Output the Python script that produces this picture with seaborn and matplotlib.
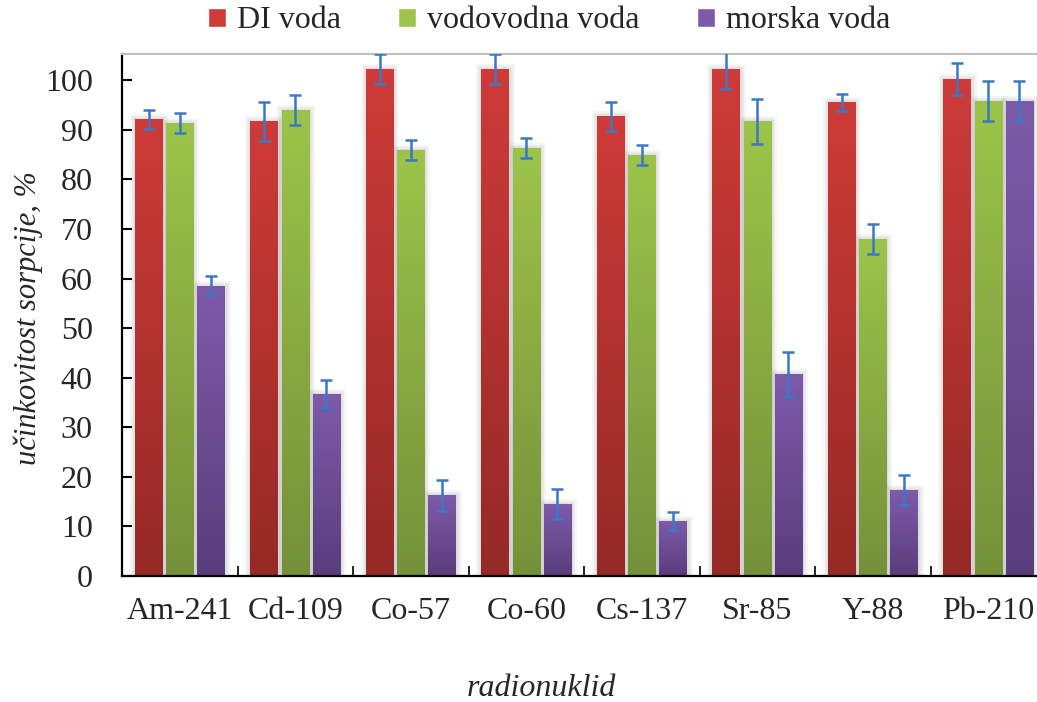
import numpy as np
import pandas as pd
import matplotlib
matplotlib.use("Agg")
import matplotlib.pyplot as plt
import matplotlib.patheffects as pe
from matplotlib.colors import LinearSegmentedColormap
import seaborn as sns

# ---- data ----
nuclides = ["Am-241", "Cd-109", "Co-57", "Co-60", "Cs-137", "Sr-85", "Y-88", "Pb-210"]
series = ["DI voda", "vodovodna voda", "morska voda"]
di_voda = [92.1, 91.7, 102.2, 102.2, 92.7, 102.2, 95.6, 100.2]
di_err = [2.0, 4.0, 3.0, 3.0, 3.0, 4.0, 1.7, 3.2]
vodovodna = [91.3, 94.0, 86.0, 86.4, 85.0, 91.7, 68.0, 95.8]
vodovodna_err = [2.0, 3.0, 2.0, 2.0, 2.0, 4.5, 3.1, 4.0]
morska = [58.6, 36.7, 16.3, 14.5, 11.1, 40.7, 17.3, 95.8]
morska_err = [2.0, 2.9, 3.1, 3.0, 1.9, 4.5, 3.0, 4.0]

values = [di_voda, vodovodna, morska]
errors = [di_err, vodovodna_err, morska_err]

df = pd.DataFrame({
    "radionuklid": nuclides * 3,
    "serija": [s for s in series for _ in nuclides],
    "vrijednost": di_voda + vodovodna + morska,
})

# gradient colours (top, bottom) for each series
grad = {
    "DI voda": ("#CE3B38", "#952926"),
    "vodovodna voda": ("#9DC44A", "#74913A"),
    "morska voda": ("#7E5AAA", "#5A3D7C"),
}
mid = {k: v[0] for k, v in grad.items()}

sns.set_theme(style="white")
plt.rcParams["font.family"] = ["Liberation Serif", "DejaVu Serif"]
FS = 23

W, H = 1037, 702
fig = plt.figure(figsize=(W / 100, H / 100), dpi=100)
left, right, bottom, top = 122, 1046, 576, 54
ax = fig.add_axes([left / W, 1 - bottom / H, (right - left) / W, (bottom - top) / H])

sns.barplot(data=df, x="radionuklid", y="vrijednost", hue="serija",
            palette=mid, width=0.81, gap=0.13, ax=ax, legend=False,
            errorbar=None, saturation=1)

ylim = (0, 105.3)
xlim = (-0.5, len(nuclides) - 0.5)

# replace flat fills with vertical gradients and add a soft grey shadow
for si, (name, cont) in enumerate(zip(series, ax.containers)):
    cmap = LinearSegmentedColormap.from_list(name, [grad[name][1], grad[name][0]])
    grad_img = np.linspace(0, 1, 256).reshape(-1, 1)
    for bar in cont:
        x0, y0 = bar.get_x(), bar.get_y()
        w, h = bar.get_width(), bar.get_height()
        bar.set_facecolor("none")
        bar.set_linewidth(0)
        bar.set_path_effects([
            pe.Stroke(linewidth=8, foreground="#606060", alpha=0.05),
            pe.Stroke(linewidth=5, foreground="#606060", alpha=0.07),
            pe.Stroke(linewidth=2.5, foreground="#606060", alpha=0.09),
        ])
        bar.set_zorder(1.5)
        im = ax.imshow(grad_img, cmap=cmap, origin="lower", aspect="auto",
                       extent=(x0, x0 + w, y0, y0 + h), zorder=2,
                       interpolation="bilinear")
        im.set_clip_path(bar)
    xs = [b.get_x() + b.get_width() / 2 for b in cont]
    ax.errorbar(xs, values[si], yerr=errors[si], fmt="none", ecolor="#3A78C6",
                elinewidth=1.8, capsize=4.3, capthick=1.8, zorder=3)

ax.set_xlim(*xlim)
ax.set_ylim(*ylim)
ax.set_yticks(np.arange(0, 101, 10))
ax.set_xlabel("")
ax.set_ylabel("")

# axes styling
for s in ["left", "bottom"]:
    ax.spines[s].set_color("black")
    ax.spines[s].set_linewidth(1.6)
ax.spines["top"].set_color("#BFBFBF")
ax.spines["top"].set_linewidth(1.5)
ax.spines["right"].set_visible(False)

ax.tick_params(axis="y", direction="in", length=7, width=1.5, color="black",
               labelsize=FS, pad=21, left=True)
ax.set_xticks(np.arange(len(nuclides)))
ax.set_xticklabels(nuclides)
ax.tick_params(axis="x", which="major", length=0, labelsize=FS, pad=15)
ax.set_xticks(np.arange(0.5, len(nuclides) - 0.5, 1), minor=True)
ax.tick_params(axis="x", which="minor", direction="in", length=7, width=1.2,
               color="black", bottom=True)

fig.text(28 / W, 1 - 318 / H, "učinkovitost sorpcije, %", rotation=90,
         ha="center", va="center", fontsize=22, style="italic")
fig.text(541 / W, 1 - 688 / H, "radionuklid", ha="center", va="center",
         fontsize=FS, style="italic")

handles = [plt.Rectangle((0, 0), 1, 1, facecolor=grad[s][0]) for s in series]
fig.legend(handles, series, loc="center", bbox_to_anchor=(549 / W, 1 - 21 / H),
           ncol=3, frameon=False, fontsize=FS, handlelength=0.55,
           handleheight=0.55, handletextpad=0.35, columnspacing=1.8)

fig.savefig("out.png", dpi=100)
